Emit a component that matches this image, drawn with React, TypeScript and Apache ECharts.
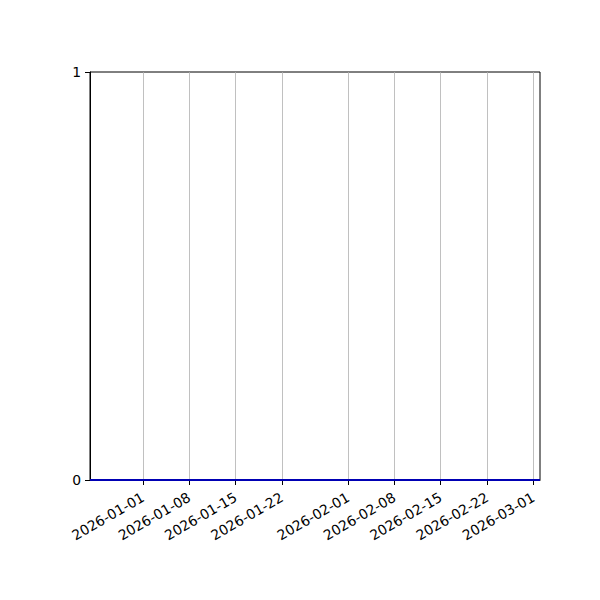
import React, { useEffect, useRef } from "react";
import * as echarts from "echarts";

const seriesDates: string[] = ["2025-12-24", "2026-03-02"];
const seriesValues: number[] = [0, 0];
const tickDates: string[] = [
  "2026-01-01",
  "2026-01-08",
  "2026-01-15",
  "2026-01-22",
  "2026-02-01",
  "2026-02-08",
  "2026-02-15",
  "2026-02-22",
  "2026-03-01",
];
const xRange: string[] = ["2025-12-24", "2026-03-02"];

const toTs = (s: string) => {
  const [y, m, d] = s.split("-").map(Number);
  return Date.UTC(y, m - 1, d);
};
const pad = (n: number) => (n < 10 ? "0" + n : "" + n);
const fmt = (v: number) => {
  const d = new Date(v);
  return d.getUTCFullYear() + "-" + pad(d.getUTCMonth() + 1) + "-" + pad(d.getUTCDate());
};

export default function App() {
  const ref = useRef<HTMLDivElement>(null);
  useEffect(() => {
    if (!ref.current) return;
    const chart = echarts.init(ref.current, null, { renderer: "svg" });
    const tickTs = tickDates.map(toTs);
    const font = "DejaVu Sans";
    chart.setOption({
      animation: false,
      backgroundColor: "#ffffff",
      grid: {
        left: 90,
        right: 60,
        top: 72,
        bottom: 120,
        show: true,
        borderColor: "#000000",
        borderWidth: 1,
        backgroundColor: "transparent",
      },
      xAxis: {
        type: "value",
        min: toTs(xRange[0]),
        max: toTs(xRange[1]),
        axisLine: { show: true, onZero: false, lineStyle: { color: "#000000", width: 1 } },
        axisTick: {
          show: true,
          customValues: tickTs,
          length: 5,
          lineStyle: { color: "#000000", width: 1 },
        },
        axisLabel: {
          customValues: tickTs,
          formatter: (v: number) => fmt(v),
          rotate: 30,
          margin: 16,
          color: "#000000",
          fontFamily: font,
          fontSize: 13.9,
        },
        splitLine: { show: false },
      },
      yAxis: {
        type: "value",
        min: 0,
        max: 1,
        interval: 1,
        axisLine: { show: true, lineStyle: { color: "#000000", width: 1 } },
        axisTick: { show: true, length: 5, lineStyle: { color: "#000000", width: 1 } },
        axisLabel: {
          margin: 9,
          color: "#000000",
          fontFamily: font,
          fontSize: 13.9,
          formatter: (v: number) => String(v),
        },
        splitLine: { show: false },
      },
      series: [
        {
          type: "line",
          data: seriesDates.map((d, i) => [toTs(d), seriesValues[i]]),
          showSymbol: false,
          symbol: "none",
          clip: false,
          z: 5,
          lineStyle: { color: "#0000b4", width: 2 },
          markLine: {
            silent: true,
            symbol: ["none", "none"],
            label: { show: false },
            lineStyle: { color: "#b0b0b0", width: 0.8, type: "solid" },
            data: tickTs.map((t) => ({ xAxis: t })),
            z: 1,
          },
        },
      ],
    });
    return () => chart.dispose();
  }, []);
  return (
    <div
      ref={ref}
      style={{ position: "fixed", left: 0, top: 0, width: 600, height: 600 }}
    />
  );
}
